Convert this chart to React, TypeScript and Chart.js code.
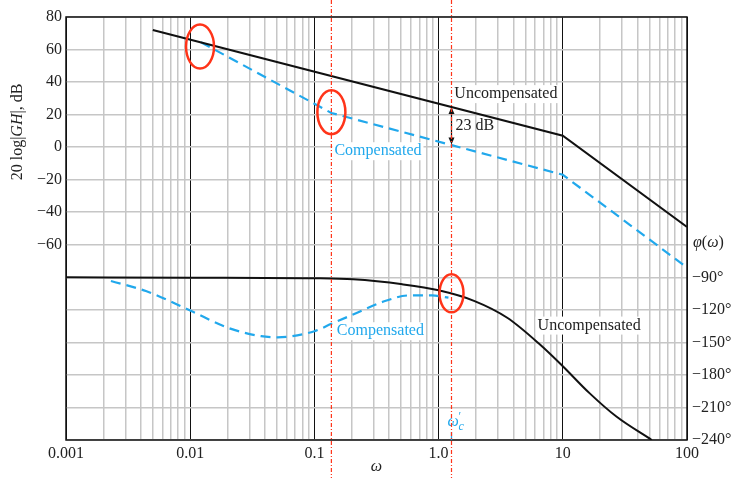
import React, { useEffect, useRef } from 'react';
import { Chart, registerables } from 'chart.js';

Chart.register(...registerables);

// Magnitude (asymptotic), dB
const omegaMagUncomp = [0.005, 10, 100];
const dbUncomp = [72, 7, -49];
const omegaMagComp = [0.0122, 0.137, 10, 100];
const dbComp = [64.5, 21, -17, -74];

// Phase, degrees
const omegaPhaseUncomp = [0.001, 0.01, 0.1, 0.205, 0.512, 1.0, 1.95, 3.57, 6.55, 10, 16.4, 27, 52];
const phaseUncomp = [-90, -90.3, -90.9, -91.9, -96.5, -102, -111.9, -127.3, -152, -172, -196.8, -218.4, -240];
const omegaPhaseComp = [0.0023, 0.0044, 0.01, 0.0202, 0.0372, 0.0505, 0.1, 0.137, 0.205, 0.37, 0.58, 0.885, 1.2];
const phaseComp = [-93.4, -102.7, -120.6, -136.6, -144.3, -145.3, -139.7, -132.9, -124.3, -111.9, -106.7, -106.7, -108.8];

// Axis ticks
const xDecades = [0.001, 0.01, 0.1, 1, 10, 100];
const xDecadeLabels = ['0.001', '0.01', '0.1', '1.0', '10', '100'];
const dbTicksShown = [80, 60, 40, 20, 0, -20, -40, -60];
const phaseTicksShown = [-90, -120, -150, -180, -210, -240];

// Key frequencies
const omegaLagZero = 0.137;
const omegaCrossNew = 1.27;
const marginDb = 23;

const BLUE = '#21a8ec';
const RED = '#ff3419';
const TEXT = '#222';
const GRID = '#c6c6c6';
const SERIF = '"Liberation Serif", "Times New Roman", serif';
const FS = 16;

const pts = (xs: number[], ys: number[]) => xs.map((x, i) => ({ x, y: ys[i] }));

const isDecade = (v: number) => Math.abs(Math.log10(v) - Math.round(Math.log10(v))) < 1e-6;

const buildLogTicks = () => {
  const out: number[] = [];
  for (let e = -3; e <= 1; e++) {
    for (let m = 1; m <= 9; m++) out.push(Number((m * Math.pow(10, e)).toPrecision(6)));
  }
  out.push(100);
  return out;
};

// Value of a piecewise-linear (in log ω) series at ω
const interpLog = (xs: number[], ys: number[], w: number) => {
  for (let i = 0; i < xs.length - 1; i++) {
    if (w >= xs[i] && w <= xs[i + 1]) {
      const t = (Math.log10(w) - Math.log10(xs[i])) / (Math.log10(xs[i + 1]) - Math.log10(xs[i]));
      return ys[i] + t * (ys[i + 1] - ys[i]);
    }
  }
  return ys[ys.length - 1];
};

const font = (size: number, italic = false) => `${italic ? 'italic ' : ''}${size}px ${SERIF}`;

const drawRuns = (ctx: CanvasRenderingContext2D, runs: [string, boolean][], x: number, y: number, size: number, align: 'left' | 'center') => {
  let total = 0;
  runs.forEach(([t, it]) => { ctx.font = font(size, it); total += ctx.measureText(t).width; });
  let cx = align === 'center' ? x - total / 2 : x;
  ctx.textAlign = 'left';
  runs.forEach(([t, it]) => {
    ctx.font = font(size, it);
    ctx.fillText(t, cx, y);
    cx += ctx.measureText(t).width;
  });
};

const boxedText = (ctx: CanvasRenderingContext2D, text: string, cx: number, cy: number, color: string) => {
  ctx.font = font(FS);
  const w = ctx.measureText(text).width;
  ctx.fillStyle = '#fff';
  ctx.fillRect(cx - w / 2 - 2, cy - 9, w + 4, 18);
  ctx.fillStyle = color;
  ctx.textAlign = 'center';
  ctx.textBaseline = 'middle';
  ctx.fillText(text, cx, cy);
};

const annotations = {
  id: 'bodeAnnotations',
  afterDatasetsDraw(chart: any) {
    const { ctx, chartArea, scales } = chart;
    const x = scales.x, y = scales.y, yp = scales.phase;
    ctx.save();

    // frame
    ctx.strokeStyle = '#111';
    ctx.lineWidth = 1.5;
    ctx.setLineDash([]);
    ctx.strokeRect(chartArea.left, chartArea.top, chartArea.right - chartArea.left, chartArea.bottom - chartArea.top);

    // text labels
    boxedText(ctx, 'Uncompensated', x.getPixelForValue(3.48), y.getPixelForValue(32.6), TEXT);
    boxedText(ctx, 'Compensated', x.getPixelForValue(0.325), y.getPixelForValue(-2.5), BLUE);
    boxedText(ctx, 'Compensated', x.getPixelForValue(0.34), yp.getPixelForValue(-139.7), BLUE);
    boxedText(ctx, 'Uncompensated', x.getPixelForValue(16.3), yp.getPixelForValue(-134.5), TEXT);

    // gain margin arrow at the new crossover
    const xc = x.getPixelForValue(omegaCrossNew);
    const topDb = interpLog(omegaMagUncomp, dbUncomp, omegaCrossNew);
    const yTop = y.getPixelForValue(topDb);
    const yBot = y.getPixelForValue(topDb - marginDb);
    ctx.strokeStyle = '#111';
    ctx.fillStyle = '#111';
    ctx.lineWidth = 1.2;
    ctx.beginPath();
    ctx.moveTo(xc, yTop + 4);
    ctx.lineTo(xc, yBot - 4);
    ctx.stroke();
    const head = (yy: number, dir: number) => {
      ctx.beginPath();
      ctx.moveTo(xc, yy);
      ctx.lineTo(xc - 3, yy + dir * 7);
      ctx.lineTo(xc + 3, yy + dir * 7);
      ctx.closePath();
      ctx.fill();
    };
    head(yTop, 1);
    head(yBot, -1);
    ctx.font = font(FS);
    ctx.fillStyle = TEXT;
    ctx.textAlign = 'left';
    ctx.textBaseline = 'middle';
    ctx.fillText(`${marginDb} dB`, xc + 4, (yTop + yBot) / 2);

    // ω'c marker
    ctx.fillStyle = BLUE;
    ctx.textBaseline = 'middle';
    const yw = yp.getPixelForValue(-223);
    drawRuns(ctx, [['ω', true]], xc - 4, yw, FS, 'left');
    ctx.font = font(12);
    ctx.textAlign = 'left';
    ctx.fillText('′', xc + 7, yw - 5);
    ctx.font = font(12, true);
    ctx.fillText('c', xc + 7, yw + 5);
    ctx.strokeStyle = BLUE;
    ctx.lineWidth = 1.3;
    ctx.beginPath();
    ctx.moveTo(xc, chartArea.bottom - 8);
    ctx.lineTo(xc, chartArea.bottom);
    ctx.stroke();

    // axis titles
    ctx.fillStyle = TEXT;
    ctx.textBaseline = 'middle';
    ctx.save();
    ctx.translate(18, 132);
    ctx.rotate(-Math.PI / 2);
    drawRuns(ctx, [['20 log|', false], ['GH', true], ['|, dB', false]], 0, 0, FS, 'center');
    ctx.restore();
    drawRuns(ctx, [['φ', true], ['(', false], ['ω', true], [')', false]], chartArea.right + 6, y.getPixelForValue(-59), FS, 'left');
    drawRuns(ctx, [['ω', true]], (chartArea.left + chartArea.right) / 2, 467, FS, 'center');

    // reference frequencies
    ctx.strokeStyle = RED;
    ctx.lineWidth = 1.2;
    ctx.setLineDash([4, 2, 1, 2]);
    [omegaLagZero, omegaCrossNew].forEach((w) => {
      const px = x.getPixelForValue(w);
      ctx.beginPath();
      ctx.moveTo(px, 0);
      ctx.lineTo(px, chart.height);
      ctx.stroke();
    });
    ctx.setLineDash([]);

    // highlighted points
    ctx.strokeStyle = RED;
    ctx.lineWidth = 2.5;
    const ring = (px: number, py: number, rx: number, ry: number) => {
      ctx.beginPath();
      ctx.ellipse(px, py, rx, ry, 0, 0, Math.PI * 2);
      ctx.stroke();
    };
    ring(x.getPixelForValue(0.012), y.getPixelForValue(61.8), 14, 22);
    ring(x.getPixelForValue(omegaLagZero), y.getPixelForValue(21.5), 14, 22);
    ring(x.getPixelForValue(omegaCrossNew), yp.getPixelForValue(-104.8), 12, 19);

    ctx.restore();
  },
};

export default function App() {
  const ref = useRef<HTMLCanvasElement | null>(null);

  useEffect(() => {
    if (!ref.current) return;
    const logTicks = buildLogTicks();
    const chart = new Chart(ref.current, {
      type: 'line',
      data: {
        datasets: [
          {
            data: pts(omegaMagUncomp, dbUncomp),
            borderColor: '#111', borderWidth: 2, pointRadius: 0, tension: 0, yAxisID: 'y',
          },
          {
            data: pts(omegaMagComp, dbComp),
            borderColor: BLUE, borderWidth: 2.2, borderDash: [10, 6], pointRadius: 0, tension: 0, yAxisID: 'y',
          },
          {
            data: pts(omegaPhaseUncomp, phaseUncomp),
            borderColor: '#111', borderWidth: 2, pointRadius: 0, cubicInterpolationMode: 'monotone', yAxisID: 'phase',
          },
          {
            data: pts(omegaPhaseComp, phaseComp),
            borderColor: BLUE, borderWidth: 2.2, borderDash: [10, 6], pointRadius: 0, cubicInterpolationMode: 'monotone', yAxisID: 'phase',
          },
        ],
      },
      options: {
        animation: false,
        responsive: false,
        devicePixelRatio: 1,
        layout: { padding: { top: 17, left: 0, right: 0, bottom: 0 } },
        plugins: { legend: { display: false }, tooltip: { enabled: false } },
        scales: {
          x: {
            type: 'logarithmic',
            min: 0.001,
            max: 100,
            afterBuildTicks: (s: any) => { s.ticks = logTicks.map((v) => ({ value: v })); },
            afterFit: (s: any) => { s.height = 38; },
            border: { display: false },
            grid: {
              drawTicks: false,
              color: (c: any) => (isDecade(c.tick.value) ? '#111' : GRID),
              lineWidth: (c: any) => (isDecade(c.tick.value) ? 1 : 1.5),
            },
            ticks: {
              autoSkip: false,
              maxRotation: 0,
              padding: 4,
              color: TEXT,
              font: { family: SERIF, size: FS },
              callback: (v: any) => {
                const i = xDecades.findIndex((d) => Math.abs(Math.log10(d) - Math.log10(Number(v))) < 1e-6);
                return i >= 0 ? xDecadeLabels[i] : '';
              },
            },
          },
          y: {
            position: 'left',
            min: -180,
            max: 80,
            afterFit: (s: any) => { s.width = 66; },
            border: { display: false },
            grid: { drawTicks: false, color: GRID, lineWidth: 1.5 },
            ticks: {
              stepSize: 20,
              padding: 4,
              color: TEXT,
              font: { family: SERIF, size: FS },
              callback: (v: any) => (dbTicksShown.includes(Number(v)) ? (Number(v) < 0 ? `−${-v}` : `${v}`) : ''),
            },
          },
          phase: {
            position: 'right',
            min: -240,
            max: 150,
            afterFit: (s: any) => { s.width = 48; },
            border: { display: false },
            grid: { display: false, drawTicks: false },
            ticks: {
              stepSize: 30,
              padding: 5,
              color: TEXT,
              font: { family: SERIF, size: FS },
              callback: (v: any) => (phaseTicksShown.includes(Number(v)) ? `−${-v}°` : ''),
            },
          },
        },
      } as any,
      plugins: [annotations],
    });
    return () => chart.destroy();
  }, []);

  return (
    <div style={{ position: 'absolute', left: 0, top: 0, width: 735, height: 478, background: '#fff' }}>
      <canvas ref={ref} width={735} height={478} style={{ width: 735, height: 478, display: 'block' }} />
    </div>
  );
}
